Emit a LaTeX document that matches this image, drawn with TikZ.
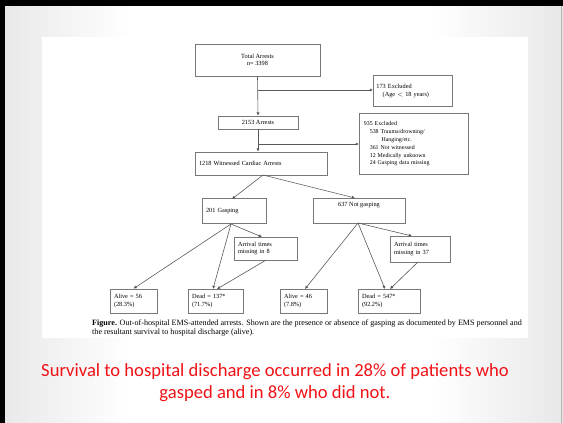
\documentclass[tikz,border=0pt]{standalone}
\usepackage{fontspec}
\setmainfont{Liberation Serif}
\newfontfamily\slidefont{Carlito}
\usetikzlibrary{arrows.meta}
\definecolor{boxline}{RGB}{120,120,120}
\definecolor{arrline}{RGB}{90,90,90}
\definecolor{slidered}{RGB}{240,18,22}
\tikzset{
  fbox/.style={draw=boxline, line width=0.8pt, rectangle, inner sep=2pt,
    font=\fontsize{6.3}{7.5}\selectfont, align=center},
  conn/.style={draw=arrline, line width=0.6pt, -{Latex[length=3.2pt,width=3.2pt]}},
  plain/.style={draw=arrline, line width=0.6pt}
}
\begin{document}
\begin{tikzpicture}[x=1pt,y=-1pt]
\useasboundingbox (0,0) rectangle (563,423);
% slide background
\fill[white] (0,0) rectangle (563,423);
\shade[left color=gray!18, right color=white] (0,0) rectangle (130,423);
\shade[left color=white, right color=gray!18] (430,0) rectangle (563,423);
\fill[white] (42,37) rectangle (528,338);
\fill[black] (0,0) rectangle (563,6);
\fill[black] (0,0) rectangle (5,423);
\draw[gray!60, line width=0.8pt] (561.5,6) -- (561.5,423);

% boxes
\node[fbox, minimum width=125pt, minimum height=32pt] (total) at (257.5,60)
  {Total Arrests\\ n= 3398};
\node[fbox, minimum width=79pt, minimum height=31pt, align=left, anchor=north west,
  text width=73pt, text height=5pt] (excla) at (373,75)
  {173 Excluded\\ \quad(Age $<$ 18 years)\\[6pt]};
\node[fbox, minimum width=80pt, minimum height=13pt] (arr) at (258,122.5)
  {2153 Arrests};
\node[fbox, anchor=north west, minimum width=109pt, minimum height=61pt, align=left,
  text width=100pt, font=\fontsize{5.9}{7.8}\selectfont] (exclb) at (359,113)
  {935 Excluded\\
   \quad 538 Trauma/drowning/\\
   \qquad\quad Hanging/etc.\\
   \quad 361 Not witnessed\\
   \quad 12 Medically unknown\\
   \quad 24 Gasping data missing};
\node[fbox, minimum width=132pt, minimum height=23pt, align=left, text width=124pt]
  (wit) at (261,163.5) {1218 Witnessed Cardiac Arrests\\[4pt]};
\node[fbox, minimum width=64pt, minimum height=25pt, align=left, text width=56pt]
  (gasp) at (234,211) {201 Gasping\\[5pt]};
\node[fbox, minimum width=92pt, minimum height=25pt] (ngasp) at (359,210.5)
  {637 Not gasping\\[5pt]};
\node[fbox, minimum width=63pt, minimum height=23pt, align=left, text width=55pt]
  (am8) at (265.5,248.5) {Arrival times\\ missing in 8};
\node[fbox, minimum width=60pt, minimum height=26pt, align=left, text width=52pt]
  (am37) at (420,249) {Arrival times\\ missing in 37};
\node[fbox, minimum width=47pt, minimum height=24pt, align=left, text width=39pt]
  (al56) at (133.5,301) {Alive = 56\\ (28.3\%)};
\node[fbox, minimum width=55pt, minimum height=24pt, align=left, text width=47pt]
  (de137) at (215.5,301) {Dead = 137*\\ (71.7\%)};
\node[fbox, minimum width=47pt, minimum height=24pt, align=left, text width=39pt]
  (al46) at (303.5,301) {Alive = 46\\ (7.8\%)};
\node[fbox, minimum width=62pt, minimum height=24pt, align=left, text width=54pt]
  (de547) at (389,301) {Dead = 547*\\ (92.2\%)};

% connectors
\coordinate (b1) at (total.south |- 0,90);
\draw[conn] (total.south) -- (arr.north);
\draw[conn] (b1) -- (b1 -| excla.west);
\coordinate (b2) at (arr.south |- 0,144);
\draw[conn] (arr.south) -- (wit.north -| arr.south);
\draw[conn] (b2) -- (b2 -| exclb.west);

\coordinate (ws) at (263,175);
\draw[conn] (ws) -- (232,199);
\draw[conn] (ws) -- (355,198);

\coordinate (gs) at (231,224);
\draw[conn] (gs) -- (al56.north);
\draw[conn] (gs) -- (213,289);
\draw[conn] (gs) -- (262,237);
\draw[conn] (am8.south) -- (217,289);

\coordinate (ns) at (358,223);
\draw[conn] (ns) -- (305,289);
\draw[conn] (ns) -- (385,289);
\draw[conn] (ns) -- (412,236);
\draw[conn] (418,262) -- (390,289);

% caption
\node[anchor=north west, align=left, inner sep=0pt, font=\fontsize{8.1}{9}\selectfont]
  (cap) at (92,320)
  {\textbf{Figure.} Out-of-hospital EMS-attended arrests. Shown are the presence or absence of gasping as documented by EMS personnel and\\
   the resultant survival to hospital discharge (alive).};

% slide text
\node[text=slidered, align=center, font=\slidefont\fontsize{18.6}{22}\selectfont] (msg) at (275,383)
  {Survival to hospital discharge occurred in 28\% of patients who\\ gasped and in 8\% who did not.};
\end{tikzpicture}
\end{document}
